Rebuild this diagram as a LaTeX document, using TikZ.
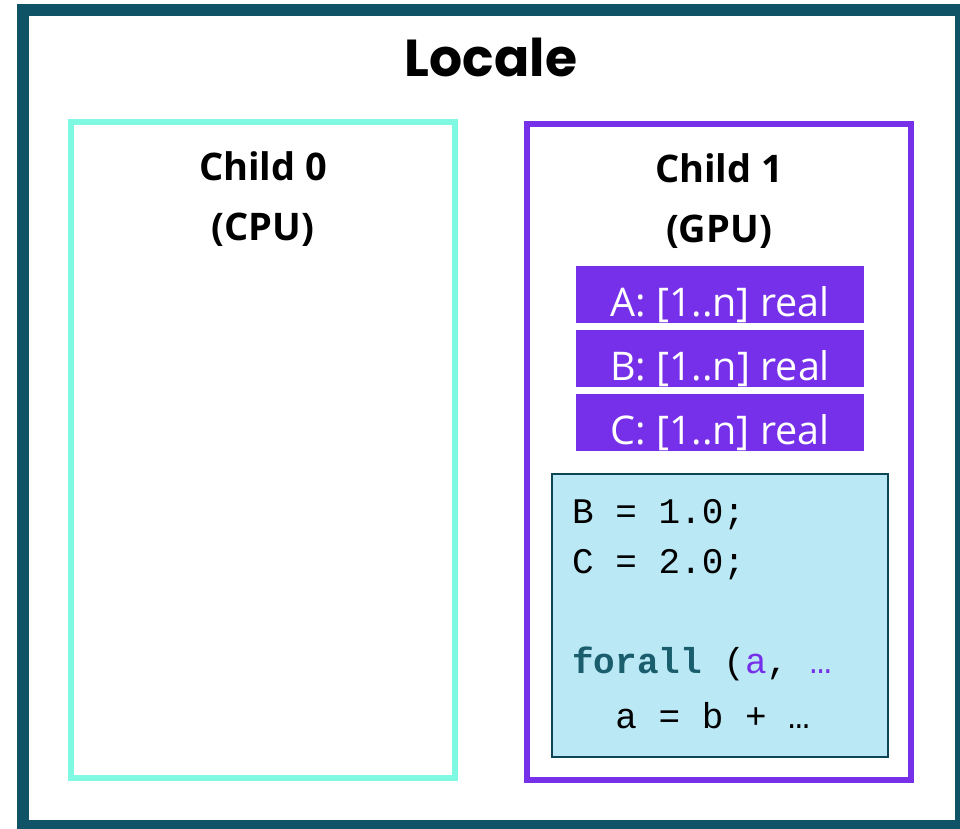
\documentclass[tikz,border=0pt]{standalone}
\usepackage{fontspec}
\setmainfont{Open Sans}
\newfontfamily\titlefont{Poppins}[UprightFont=* Bold]
\newfontfamily\headfont{Open Sans}[UprightFont=* Bold]
\newfontfamily\codefont{Liberation Mono}
\definecolor{frameteal}{HTML}{0E5366}
\definecolor{cpuaqua}{HTML}{7FF9E2}
\definecolor{gpupurple}{HTML}{7630EA}
\definecolor{codefill}{HTML}{BAE8F5}
\definecolor{codeedge}{HTML}{0E4656}
\definecolor{kwteal}{HTML}{1A5E6E}
\tikzset{
  arraybar/.style={fill=gpupurple, draw=none, minimum width=288pt, minimum height=57pt, inner sep=0pt},
  arraytext/.style={text=white, anchor=base, inner sep=0pt, font=\fontsize{39.5}{42}\selectfont},
  headtext/.style={anchor=base, inner sep=0pt, font=\headfont\fontsize{38}{40}\selectfont},
  codeline/.style={anchor=base west, inner sep=0pt, font=\codefont\fontsize{36}{40}\selectfont}
}
\begin{document}
\begin{tikzpicture}[x=1pt,y=-1pt]
\useasboundingbox (0,0) rectangle (960,828);
\clip (0,0) rectangle (960,828);
% locale frame
\draw[frameteal, line width=12pt] (23,10) rectangle (961,826);
\node[anchor=base, inner sep=0pt, font=\titlefont\fontsize{52}{56}\selectfont] (locale) at (491,76) {Locale};
% child sublocales
\draw[cpuaqua, line width=6pt] (71,122) rectangle (455,778);
\draw[gpupurple, line width=6pt] (527,124) rectangle (911,780);
\node[headtext] (c0a) at (263,180) {Child 0};
\node[headtext] (c0b) at (263,240) {(CPU)};
\node[headtext] (c1a) at (719,182) {Child 1};
\node[headtext] (c1b) at (719,242) {(GPU)};
% arrays on the GPU
\node[arraybar] (barA) at (720,294.5) {};
\node[arraybar] (barB) at (720,358.5) {};
\node[arraybar] (barC) at (720,422.5) {};
\node[arraytext] (txtA) at (720,316) {A: [1..n] real};
\node[arraytext] (txtB) at (720,380) {B: [1..n] real};
\node[arraytext] (txtC) at (720,444) {C: [1..n] real};
% kernel code
\draw[codeedge, fill=codefill, line width=2pt] (552,474) rectangle (888,757);
\node[codeline] (l1) at (572,523) {B = 1.0;};
\node[codeline] (l2) at (572,573) {C = 2.0;};
\node[codeline] (l3) at (572,673) {\textcolor{kwteal}{\textbf{forall}} (\textcolor{gpupurple}{a}, \textcolor{gpupurple}{…}};
\node[codeline] (l4) at (572,728) {\ \ a = b + …};
\end{tikzpicture}
\end{document}
